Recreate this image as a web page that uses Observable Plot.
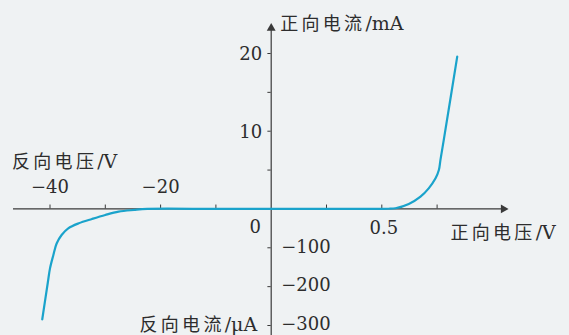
<!DOCTYPE html>
<html><head><meta charset="utf-8">
<script src="https://cdn.jsdelivr.net/npm/d3@7"></script>
<script src="https://cdn.jsdelivr.net/npm/@observablehq/plot@0.6"></script>
<style>html,body{margin:0;padding:0;background:#eff2f3}</style>
</head><body><div id="chart"></div>
<script>
// Forward characteristic: voltage (V) and current (mA)
const forwardV = [0, 0.25, 0.5, 0.53, 0.562, 0.622, 0.675, 0.712, 0.743, 0.758, 0.765, 0.780, 0.841];
const forwardI = [0, 0, 0, 0.02, 0.09, 0.64, 1.58, 2.65, 3.94, 5.0, 6.28, 8.85, 19.6];
// Reverse characteristic: voltage (V) and current (µA)
const reverseV = [-41.4, -40.4, -40.0, -39.4, -38.8, -37.9, -36.7, -34.8, -32.4, -30.0, -27.6, -24.8, -22.4, -10, 0];
const reverseI = [-284, -190, -153, -119, -89, -67, -50, -37, -25.8, -15.5, -7, -2.6, 0, 0, 0];
// Ticks and labels
const forwardVTicks = [0.25, 0.5, 0.75];
const forwardVLabels = [0.5];
const reverseVTicks = [-40, -30, -20, -10];
const reverseVLabels = [-40, -20];
const forwardITicks = [5, 10, 15, 20];
const forwardILabels = [10, 20];
const reverseITicks = [-100, -200, -300];
const titles = {fwdI: "正向电流/mA", fwdV: "正向电压/V", revV: "反向电压/V", revI: "反向电流/μA"};

// piecewise axis units (the two half-axes use different unit steps)
const vUnit = v => v >= 0 ? v / 0.25 : v / 10;
const iFwd = i => i / 5;
const iRev = i => i / 100;

const curveRev = reverseV.map((v, k) => ({x: vUnit(v), y: iRev(reverseI[k])}));
const curveFwd = forwardV.map((v, k) => ({x: vUnit(v), y: iFwd(forwardI[k])}));

const ink = "#2d2d2d", axisC = "#3a3a3a", lineC = "#1aa3cb";
const font = "'DejaVu Serif', 'Noto Sans CJK SC', serif";

const plot = Plot.plot({
  width: 569, height: 335,
  marginTop: 0, marginRight: 0, marginBottom: 0, marginLeft: 0,
  x: {type: "linear", domain: [-4, 3], range: [49.5, 436.6], axis: null},
  y: {type: "linear", domain: [-3, 4], range: [325, 53], axis: null},
  style: {background: "#eff2f3", fontFamily: font, color: ink, overflow: "visible"},
  marks: [
    // axes
    Plot.ruleY([0], {x1: -4.66, x2: 4.2, stroke: axisC, strokeWidth: 1.2}),
    Plot.ruleX([0], {y1: -3.5, y2: 4.65, stroke: axisC, strokeWidth: 1.2}),
    Plot.dot([0], {x: 0, y: 4.65, symbol: "triangle", r: 3.3, fill: axisC, stroke: null}),
    Plot.dot([0], {x: 4.2, y: 0, symbol: "triangle", r: 3.3, fill: axisC, stroke: null, rotate: 90}),
    // ticks
    Plot.ruleX([...reverseVTicks.map(vUnit), ...forwardVTicks.map(vUnit)], {x: d => d, y1: 0, y2: 0.1, stroke: axisC, strokeWidth: 1}),
    Plot.ruleY([...forwardITicks.map(iFwd), ...reverseITicks.map(iRev)], {y: d => d, x1: -0.06, x2: 0, stroke: axisC, strokeWidth: 1}),
    // curve
    Plot.line(curveRev, {x: "x", y: "y", curve: "catmull-rom", stroke: lineC, strokeWidth: 2.2}),
    Plot.line(curveFwd, {x: "x", y: "y", curve: "catmull-rom", stroke: lineC, strokeWidth: 2.2}),
    // tick labels
    Plot.text(forwardILabels, {x: 0, y: d => iFwd(d), text: d => String(d), textAnchor: "end", dx: -9, dy: 1, fontSize: 18, fill: ink}),
    Plot.text(reverseITicks, {x: 0, y: d => iRev(d), text: d => "−" + Math.abs(d), textAnchor: "start", dx: 10, dy: -1, fontSize: 18, fill: ink}),
    Plot.text([0], {x: 0, y: 0, text: () => "0", dx: -16, dy: 18, fontSize: 18, fill: ink}),
    Plot.text(forwardVLabels, {x: d => vUnit(d), y: 0, text: d => String(d), dx: 2, dy: 19, fontSize: 18, fill: ink}),
    Plot.text(reverseVLabels, {x: d => vUnit(d), y: 0, text: d => "−" + Math.abs(d), dx: 0, dy: -22, fontSize: 18, fill: ink}),
    // axis titles
    Plot.text([titles.fwdI], {x: 0, y: 4.65, text: d => d, textAnchor: "start", dx: 9, dy: -4, fontSize: 18, fill: ink}),
    Plot.text([titles.fwdV], {x: 4.2, y: 0, text: d => d, textAnchor: "start", dx: -53, dy: 24, fontSize: 18, fill: ink}),
    Plot.text([titles.revV], {x: -4, y: 0, text: d => d, textAnchor: "start", dx: -38, dy: -47, fontSize: 18, fill: ink}),
    Plot.text([titles.revI], {x: 0, y: -3, text: d => d, textAnchor: "end", dx: -14, dy: 0, fontSize: 18, fill: ink})
  ]
});
// widen the CJK part of the titles (reference glyphs are set wide), keep the unit part compact
plot.querySelectorAll("text").forEach(t => {
  const s = t.textContent;
  const m = s.match(/^([\u4e00-\u9fff]+)(.*)$/);
  if (!m) return;
  t.textContent = "";
  const ns = "http://www.w3.org/2000/svg";
  const a = document.createElementNS(ns, "tspan");
  a.setAttribute("letter-spacing", "3.3");
  a.textContent = m[1];
  const b = document.createElementNS(ns, "tspan");
  b.setAttribute("font-size", "19");
  b.textContent = m[2];
  t.appendChild(a); t.appendChild(b);
});
document.getElementById("chart").appendChild(plot);
</script>
</body></html>
